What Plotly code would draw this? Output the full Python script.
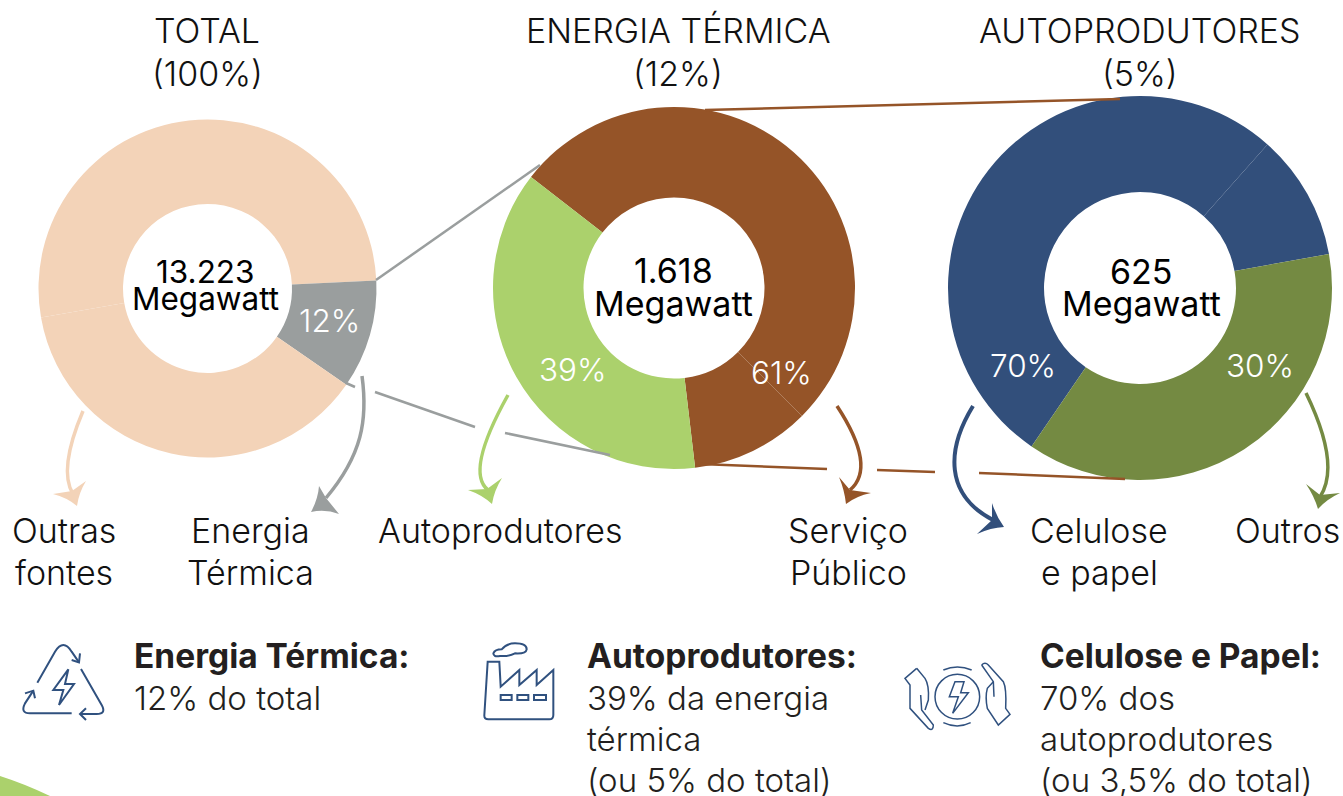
import re
import plotly.graph_objects as go

W, H = 1343, 796
FONT = "Inter"

# Slice shares (degrees of arc)
total_names = ["Outras fontes (a)", "Energia Térmica", "Outras fontes (b)"]
total_values = [187.2, 37.5, 135.3]
total_colors = ["#F3D3B8", "#9A9E9E", "#F3D3B8"]

termica_names = ["Serviço Público (a)", "Serviço Público (b)", "Autoprodutores"]
termica_values = [187.2, 38.3, 134.5]
termica_colors = ["#955428", "#955428", "#ABD16C"]

auto_names = ["Celulose e papel (a)", "Celulose e papel (b)", "Outros"]
auto_values = [187.2, 38.2, 134.6]
auto_colors = ["#324F7B", "#324F7B", "#748A42"]

titles = [["TOTAL", "(100%)"], ["ENERGIA TÉRMICA", "(12%)"], ["AUTOPRODUTORES", "(5%)"]]
centers = ["13.223", "1.618", "625"]
center_unit = "Megawatt"
share_labels = ["12%", "39%", "61%", "70%", "30%"]
category_labels = [["Outras", "fontes"], ["Energia", "Térmica"], ["Autoprodutores"],
                   ["Serviço", "Público"], ["Celulose", "e papel"], ["Outros"]]
note_heads = ["Energia Térmica:", "Autoprodutores:", "Celulose e Papel:"]
note_lines = [["12% do total"],
              ["39% da energia", "térmica", "(ou 5% do total)"],
              ["70% dos", "autoprodutores", "(ou 3,5% do total)"]]


def X(p):
    return p / W


def Y(p):
    return 1 - p / H


def P(d, ox=0.0, oy=0.0, s=1.0):
    """Pixel-coordinate SVG path -> paper-coordinate SVG path."""
    out, xturn = [], True
    for tok in re.findall(r"[MLQCZ]|-?\d+\.?\d*", d):
        if tok in "MLQCZ":
            out.append(tok)
        elif xturn:
            out.append(f"{X(ox + float(tok) * s):.5f}")
            xturn = False
        else:
            out.append(f"{Y(oy + float(tok) * s):.5f}")
            xturn = True
    return " ".join(out)


shapes = []


def stroke(d, color, width, ox=0.0, oy=0.0, s=1.0):
    shapes.append(dict(type="path", xref="paper", yref="paper", path=P(d, ox, oy, s),
                       line=dict(color=color, width=width), layer="above"))


def fill(d, color, ox=0.0, oy=0.0, s=1.0):
    shapes.append(dict(type="path", xref="paper", yref="paper", path=P(d, ox, oy, s),
                       fillcolor=color, line=dict(width=0), layer="above"))


def head(tip, w1, w2, notch, color):
    def c(w):
        return ((w[0] + tip[0]) / 2 * .72 + notch[0] * .28, (w[1] + tip[1]) / 2 * .72 + notch[1] * .28)
    a, b = c(w1), c(w2)
    fill(f"M{w1[0]} {w1[1]} Q{a[0]:.1f} {a[1]:.1f} {tip[0]} {tip[1]} Q{b[0]:.1f} {b[1]:.1f} {w2[0]} {w2[1]} "
         f"L{notch[0]} {notch[1]} Z", color)


def pie(names, values, colors, rotation, cx, cy, r):
    return go.Pie(labels=names, values=values, hole=0.5, sort=False, direction="clockwise",
                  rotation=rotation, textinfo="none", showlegend=False, hoverinfo="label",
                  marker=dict(colors=colors, line=dict(width=0)),
                  domain=dict(x=[X(cx - r), X(cx + r)], y=[Y(cy + r), Y(cy - r)]))


fig = go.Figure([
    pie(total_names, total_values, total_colors, -99.9, 207.5, 288.4, 169),
    pie(termica_names, termica_values, termica_colors, 307.8, 674, 288, 181),
    pie(auto_names, auto_values, auto_colors, 214.4, 1140, 288, 192),
])

# connector lines
GRAY, BROWN = "#9A9E9E", "#955428"
stroke("M376 280 L540 165", GRAY, 2.5)
stroke("M346 383 L355 387", GRAY, 2.5)
stroke("M375 392 L475 427", GRAY, 2.5)
stroke("M505 433 L610 455", GRAY, 2.5)
stroke("M705 110 L1120 99", BROWN, 2.5)
stroke("M700 464 L827 469", BROWN, 2.5)
stroke("M877 470 L935 472", BROWN, 2.5)
stroke("M979 473 L1125 479", BROWN, 2.5)

# curved arrows
stroke("M83 411 Q58 470 73 494", "#F3D3B8", 3.5)
head((77, 506), (53, 494), (86, 481), (72, 491), "#F3D3B8")
stroke("M362 376 C368 420 362 455 326 498", GRAY, 3.5)
head((311, 512), (319, 486), (339, 514), (326, 498), GRAY)
stroke("M508 395 Q465 472 488 490", "#ABD16C", 3.5)
head((492, 504), (468, 490), (502, 478), (487, 489), "#ABD16C")
stroke("M837 406 Q877 467 850 490", BROWN, 3.5)
head((846, 504), (839, 477), (871, 493), (850, 490), BROWN)
stroke("M973 406 C946 450 945 495 993 520", "#324F7B", 4)
head((1004, 527), (992, 503), (977, 534), (992, 520), "#324F7B")
stroke("M1306 393 Q1341 465 1320 497", "#748A42", 3.5)
head((1318, 509), (1306, 484), (1340, 493), (1320, 495), "#748A42")

# corner blob
fill("M0 776 Q25 784 50 796 L0 796 Z", "#ABD16C")

ICON = "#30517F"
# recycle / energy icon (traced in 3x crop coordinates)
o = (0, 380, 1 / 3)
for d in ["M112 908 L165 815 Q190 775 215 815 L237 847",
          "M240 820 L237 847 L215 840",
          "M243 867 L305 975 Q320 1002 290 1002 L240 1002",
          "M258 985 L240 1002 L258 1020",
          "M215 1000 L90 1000 Q60 1000 75 970 L100 932",
          "M75 940 L100 932 L105 955",
          "M205 868 L160 930 L190 930 L177 975 L222 912 L195 912 Z"]:
    stroke(d, ICON, 2, *o)
# factory icon
o = (450, 380, 1 / 3)
for d in ["M113 845 L148 845 L152 920 L208 870 L208 915 L260 870 L260 915 L310 870 L310 1005 Q310 1018 298 1018 "
          "L115 1018 Q102 1018 103 1005 Z",
          "M152 945 L185 945 L185 960 L152 960 Z",
          "M202 945 L235 945 L235 960 L202 960 Z",
          "M252 945 L288 945 L288 960 L252 960 Z",
          "M130 820 Q135 808 155 808 Q170 790 195 790 Q230 790 230 808 Q228 822 195 820 Q175 830 150 828 Q130 832 130 820 Z"]:
    stroke(d, ICON, 2, *o)
# hands icon
o = (890, 380, 1 / 3)
shapes.append(dict(type="circle", xref="paper", yref="paper",
                   x0=X(890 + 135 / 3), x1=X(890 + 269 / 3), y0=Y(380 + 883 / 3), y1=Y(380 + 1017 / 3),
                   line=dict(color=ICON, width=1.5), layer="above"))
for d in ["M160 870 Q202 852 245 870", "M160 1028 Q202 1048 242 1028",
          "M195 905 L178 950 L205 950 L188 1000 L235 938 L212 938 L222 905 Z",
          "M80 865 L45 895 L60 915 L60 985 L115 1045 Q130 1055 130 1035 L95 990 L92 945",
          "M80 865 L105 895 Q118 915 115 960 L105 990",
          "M275 855 Q285 845 295 855 L340 905 Q350 925 347 985 L360 1003 L325 1035 L292 985 Q285 950 292 925 L310 905",
          "M275 855 L310 905 L312 950"]:
    stroke(d, ICON, 1.5, *o)

ann = []


def text(s, x, y, size=34, color="#111111", anchor="center", weight=300):
    ann.append(dict(text=s, x=X(x), y=Y(y), xref="paper", yref="paper", showarrow=False,
                    xanchor=anchor, yanchor="middle", align=anchor,
                    font=dict(family=FONT, size=size, color=color, weight=weight), borderpad=0))


for lines, x in zip(titles, [207, 678, 1140]):
    for line, y in zip(lines, [31, 73]):
        text(line, x, y)
for c, x, y1, y2, size in zip(centers, [205, 673, 1141], [272, 271, 272], [298, 303, 303], [31.5, 34, 34]):
    text(c, x, y1, size, "#000000", weight=400)
    text(center_unit, x, y2, size, "#000000", weight=400)
for s, x, y in zip(share_labels, [329, 573, 781, 1023, 1260], [320, 369, 372, 365, 365]):
    text(s, x, y, 31.5, "#FFFFFF")
for lines, x in zip(category_labels, [64, 250, 500, 848, 1099, 1287]):
    for line, y in zip(lines, [530, 572]):
        text(line, x, y)
for h, lines, x in zip(note_heads, note_lines, [133, 586, 1039]):
    text(h, x, 656, 33.5, "#231F20", anchor="left", weight=700)
    for line, y in zip(lines, [698, 739, 780]):
        text(line, x, y, 33, "#231F20", anchor="left")

fig.update_layout(width=W, height=H, margin=dict(l=0, r=0, t=0, b=0, pad=0), paper_bgcolor="white",
                  plot_bgcolor="white", shapes=shapes, annotations=ann, showlegend=False)
fig.write_html("out.html", post_script="document.body.style.margin='0';", config=dict(displayModeBar=False))
